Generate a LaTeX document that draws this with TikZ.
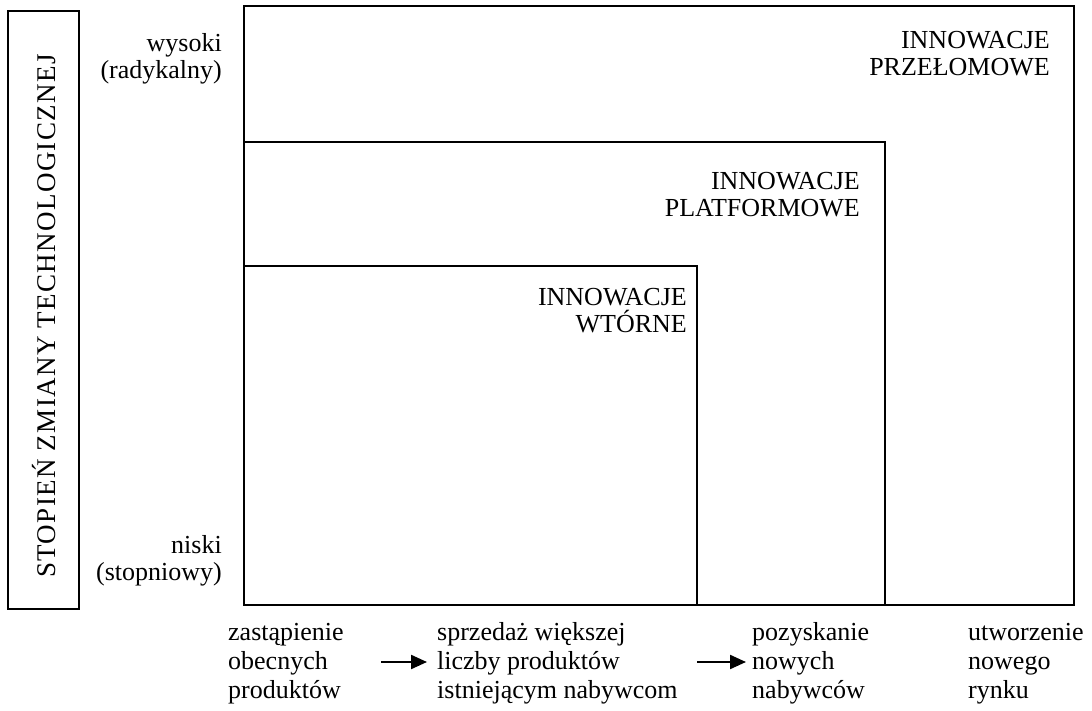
\documentclass[tikz,border=0pt]{standalone}
\usepackage{fontspec}
\setmainfont{Liberation Serif}
\usetikzlibrary{arrows.meta}
\begin{document}
\begin{tikzpicture}[x=1pt,y=-1pt,
  box/.style={draw,line width=1.6pt},
  lbl/.style={inner sep=0pt,font=\fontsize{26}{27}\selectfont},
  rlbl/.style={lbl,align=right,anchor=base east},
  bot/.style={inner sep=0pt,font=\fontsize{26}{29}\selectfont,align=left,anchor=base west},
  conn/.style={line width=2.2pt,-{Triangle[length=16pt,width=14pt]}}]
\useasboundingbox (0,0) rectangle (1092,711);
% boxes
\draw[box] (244,6) rectangle (1074,605);
\draw[box] (244,142) rectangle (885,605);
\draw[box] (244,266) rectangle (697,605);
% left axis box
\draw[box] (8,11) rectangle (79,609);
\node[lbl,rotate=90,font=\fontsize{27}{28}\selectfont\addfontfeatures{LetterSpace=5}] (axis) at (44,316) {STOPIEŃ ZMIANY TECHNOLOGICZNEJ};
% box labels (anchored at the baseline of the last line)
\node[rlbl] (prz) at (1050,76) {INNOWACJE\\PRZEŁOMOWE};
\node[rlbl] (pla) at (860,217) {INNOWACJE\\PLATFORMOWE};
\node[rlbl] (wto) at (687,332) {INNOWACJE\\WTÓRNE};
% axis labels
\node[rlbl] (hi) at (222,79) {wysoki\\(radykalny)};
\node[rlbl] (lo) at (222,580) {niski\\(stopniowy)};
% bottom labels
\node[bot] (c1) at (228,698) {zastąpienie\\obecnych\\produktów};
\node[bot] (c2) at (437,698) {sprzedaż większej\\liczby produktów\\istniejącym nabywcom};
\node[bot] (c3) at (752,698) {pozyskanie\\nowych\\nabywców};
\node[bot] (c4) at (968,698) {utworzenie\\nowego\\rynku};
% arrows
\coordinate (a1s) at (381,662);
\coordinate (a1e) at (427,662);
\coordinate (a2s) at (697,662);
\coordinate (a2e) at (746,662);
\draw[conn] (a1s) -- (a1e);
\draw[conn] (a2s) -- (a2e);
\end{tikzpicture}
\end{document}
